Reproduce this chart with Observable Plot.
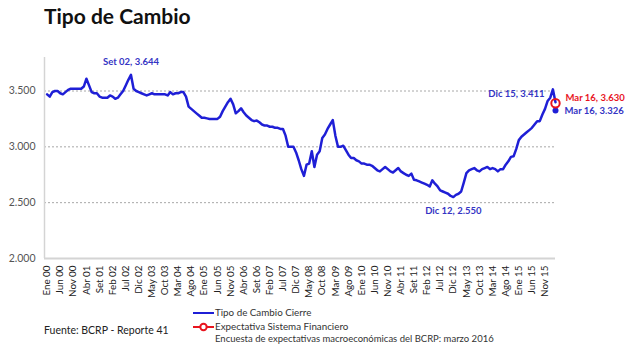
<!DOCTYPE html>
<html>
<head>
<meta charset="utf-8">
<script src="https://cdn.jsdelivr.net/npm/d3@7"></script>
<script src="https://cdn.jsdelivr.net/npm/@observablehq/plot@0.6"></script>
<style>
  html, body { margin: 0; padding: 0; background: #fff; }
  #wrap { position: relative; width: 626px; height: 345px; overflow: hidden; font-family: Lato, "Open Sans", sans-serif; }
  #title { position: absolute; left: 44px; top: 3px; font-size: 21px; font-weight: bold; color: #111; }
  #chart { position: absolute; left: 0; top: 40px; }
  .leg { position: absolute; font-size: 9.8px; color: #333; white-space: nowrap; }
  #src { position: absolute; left: 44px; top: 324px; font-size: 10.5px; color: #222; }
</style>
</head>
<body>
<div id="wrap">
  <div id="title">Tipo de Cambio</div>
  <div id="chart"></div>
  <svg class="leg" style="left:192px;top:308px" width="24" height="10"><line x1="1" y1="5" x2="22" y2="5" stroke="#1f1fd6" stroke-width="2"/></svg>
  <div class="leg" style="left:215px;top:306px">Tipo de Cambio Cierre</div>
  <svg class="leg" style="left:192px;top:322px" width="24" height="10"><line x1="1" y1="5" x2="22" y2="5" stroke="#e8141e" stroke-width="2"/><circle cx="11.5" cy="5" r="3.2" fill="#fff" stroke="#e8141e" stroke-width="2"/></svg>
  <div class="leg" style="left:215px;top:320px">Expectativa Sistema Financiero</div>
  <div class="leg" style="left:215px;top:333px;font-size:9.5px">Encuesta de expectativas macroeconómicas del BCRP: marzo 2016</div>
  <div id="src">Fuente: BCRP - Reporte 41</div>
</div>
<script>
// Month tick labels (every 5 months, Ene 00 .. Nov 15)
const tickLabels = ["Ene 00","Jun 00","Nov 00","Abr 01","Set 01","Feb 02","Jul 02","Dic 02","May 03","Oct 03",
  "Mar 04","Ago 04","Ene 05","Jun 05","Nov 05","Abr 06","Set 06","Feb 07","Jul 07","Dic 07",
  "May 08","Oct 08","Mar 09","Ago 09","Ene 10","Jun 10","Nov 10","Abr 11","Set 11","Feb 12",
  "Jul 12","Dic 12","May 13","Oct 13","Mar 14","Ago 14","Ene 15","Jun 15","Nov 15"];

// Monthly closing exchange rate, Jan 2000 .. Mar 2016
const rate2000 = [3.47,3.45,3.49,3.50,3.50,3.48,3.47,3.49,3.51,3.52,3.52,3.52];
const rate2001 = [3.52,3.52,3.54,3.61,3.55,3.49,3.48,3.48,3.45,3.44,3.44,3.44];
const rate2002 = [3.46,3.45,3.43,3.44,3.47,3.50,3.55,3.60,3.644,3.52,3.50,3.49];
const rate2003 = [3.48,3.47,3.46,3.47,3.48,3.47,3.47,3.47,3.47,3.47,3.46,3.49];
const rate2004 = [3.47,3.48,3.48,3.49,3.49,3.45,3.36,3.34,3.32,3.30,3.28,3.26];
const rate2005 = [3.26,3.255,3.25,3.25,3.25,3.25,3.27,3.32,3.36,3.40,3.43,3.38];
const rate2006 = [3.30,3.32,3.345,3.31,3.28,3.26,3.24,3.23,3.235,3.22,3.20,3.19];
const rate2007 = [3.19,3.18,3.18,3.17,3.17,3.16,3.16,3.10,3.00,3.00,3.00,2.95];
const rate2008 = [2.88,2.80,2.74,2.84,2.85,2.96,2.82,2.93,2.96,3.08,3.11,3.16];
const rate2009 = [3.20,3.24,3.10,3.00,3.00,3.01,2.97,2.93,2.90,2.90,2.88,2.87];
const rate2010 = [2.85,2.85,2.84,2.84,2.83,2.81,2.79,2.78,2.80,2.82,2.80,2.78];
const rate2011 = [2.77,2.79,2.81,2.78,2.765,2.75,2.74,2.76,2.705,2.70,2.69,2.68];
const rate2012 = [2.67,2.66,2.645,2.70,2.67,2.645,2.61,2.60,2.59,2.58,2.56,2.55];
const rate2013 = [2.57,2.58,2.60,2.68,2.765,2.79,2.80,2.81,2.79,2.78,2.80,2.81];
const rate2014 = [2.82,2.80,2.81,2.80,2.78,2.80,2.80,2.84,2.87,2.91,2.915,2.98];
const rate2015 = [3.06,3.09,3.11,3.13,3.15,3.17,3.20,3.23,3.23,3.29,3.34,3.411];
const rate2016 = [3.44,3.515,3.40];

// Mar 16 points (position as drawn) and their labels
const marchIndex = [194];
const expectationValue = [3.39];
const expectationLabel = ["Mar 16, 3.630"];
const actualValue = [3.326];
const actualLabel = ["Mar 16, 3.326"];

// Annotated points
const annIndex = [32, 155, 191];
const annLabel = ["Set 02, 3.644", "Dic 12, 2.550", "Dic 15, 3.411"];

const values = [].concat(rate2000, rate2001, rate2002, rate2003, rate2004, rate2005, rate2006, rate2007,
  rate2008, rate2009, rate2010, rate2011, rate2012, rate2013, rate2014, rate2015, rate2016);
const data = values.map((v, i) => ({i, v}));
const ann = annIndex.map((i, k) => ({i, v: values[i], label: annLabel[k]}));
const expPt = marchIndex.map((i, k) => ({i, v: expectationValue[k], label: expectationLabel[k]}));
const actPt = marchIndex.map((i, k) => ({i, v: actualValue[k], label: actualLabel[k]}));

const blue = "#1f1fd6";
const labelBlue = "#3434c4";
const red = "#e8141e";

const chart = Plot.plot({
  width: 626,
  height: 265,
  marginTop: 17,
  marginBottom: 47,
  marginLeft: 44,
  marginRight: 71,
  x: {domain: [-1, 194], axis: null},
  y: {domain: [2.0, 3.8], axis: null},
  style: {fontFamily: "Lato, 'Open Sans', sans-serif", background: "transparent"},
  marks: [
    Plot.ruleY([2.5, 3.0, 3.5], {stroke: "#a8a8a8", strokeDasharray: "2,2", strokeWidth: 1}),
    Plot.ruleY([2.0], {stroke: "#d4d4d4", strokeWidth: 2}),
    Plot.ruleX([-1], {stroke: "#d4d4d4", strokeWidth: 1.5}),
    Plot.axisY({ticks: [2.0, 2.5, 3.0, 3.5], tickFormat: d3.format(".3f"), tickSize: 0, tickPadding: 9,
      fontSize: 10.5, fill: "#555", label: null}),
    Plot.axisX({ticks: tickLabels.map((_, k) => k * 5), tickFormat: d => tickLabels[d / 5], tickRotate: -90,
      tickSize: 0, tickPadding: 7, fontSize: 9.8, fill: "#222", label: null}),
    Plot.line(data, {x: "i", y: "v", stroke: blue, strokeWidth: 2.5, strokeLinejoin: "round"}),
    Plot.dot(actPt, {x: "i", y: "v", r: 3, fill: blue}),
    Plot.dot(expPt, {x: "i", y: "v", r: 4.2, fill: "none", stroke: red, strokeWidth: 2}),
    Plot.text(ann.slice(0, 1), {x: "i", y: "v", text: "label", dy: -13, fill: labelBlue, fontWeight: "bold", fontSize: 9.5}),
    Plot.text(ann.slice(1, 2), {x: "i", y: "v", text: "label", dy: 14, fill: labelBlue, fontWeight: "bold", fontSize: 9.5}),
    Plot.text(ann.slice(2, 3), {x: "i", y: "v", text: "label", dx: -3, dy: -7, textAnchor: "end", fill: labelBlue, fontWeight: "bold", fontSize: 9.5}),
    Plot.text(expPt, {x: "i", y: "v", text: "label", dx: 10, dy: -5, textAnchor: "start", fill: red, fontWeight: "bold", fontSize: 9.5}),
    Plot.text(actPt, {x: "i", y: "v", text: "label", dx: 9, dy: 1, textAnchor: "start", fill: labelBlue, fontWeight: "bold", fontSize: 9.5})
  ]
});
document.getElementById("chart").appendChild(chart);
</script>
</body>
</html>
